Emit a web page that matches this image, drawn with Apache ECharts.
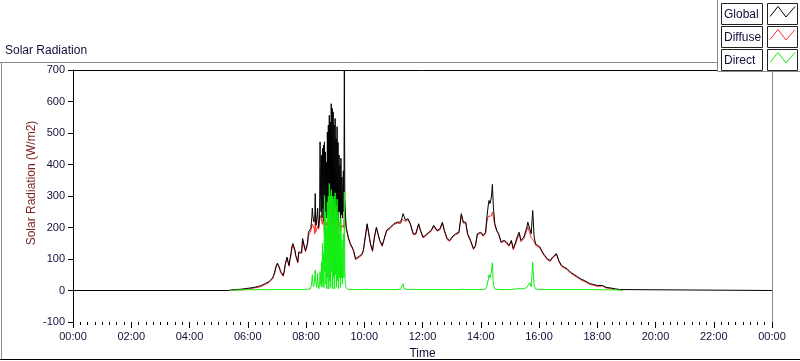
<!DOCTYPE html>
<html>
<head>
<meta charset="utf-8">
<script src="https://cdn.jsdelivr.net/npm/echarts@6/dist/echarts.min.js"></script>
<style>
html,body{margin:0;padding:0;background:#fff;}
#chart{width:800px;height:361px;}
</style>
</head>
<body>
<div id="chart"></div>
<script>
// time in minutes after midnight
const times = [
0,320,324,334,345,355,365,373,382,388,392,396,400,404,408,411,413,415,417,419,421,423,425,427,429,431,433,435,437,439,441,443,445,447,449,451,453,455,457,459,461,463,465,467,469,471,473,475,477,479,481,483,485,487,489,
490,491,492,493,494,495,496,497,498,499,500,501,502,503,504,505,506,507,508,509,510,511,512,513,514,515,516,517,518,519,520,521,522,523,524,525,526,527,528,529,530,531,532,533,534,535,536,537,538,539,540,541,542,543,544,545,546,547,548,549,550,551,552,553,554,555,556,557,558,559,560,561,562,563,
565,567,571,575,578,582,584,586,589,592,595,598,602,606,609,613,617,621,625,628,632,637,640,646,650,654,661,668,675,678,680,682,685,690,695,701,706,709,712,716,721,726,733,738,743,747,750,756,761,765,771,776,781,788,795,800,804,809,813,819,825,829,833,840,845,850,852,855,857,859,862,864,866,869,873,877,882,888,893,898,903,907,912,915,919,923,929,935,937,941,944,947,950,953,957,962,967,972,977,983,988,992,996,1001,1006,1012,1018,1025,1032,1039,1046,1053,1060,1067,1073,1080,1091,1098,1108,1118,1128,1132,1440
];
const globalVals = [
0,0,1,3,4,6,8,10,13,16,19,22,25,28,33,40,47,56,68,80,87,82,74,64,57,51,48,60,82,95,106,92,80,100,117,140,149,150,130,111,101,90,122,127,118,122,165,170,138,127,122,150,185,181,191,
197,215,230,261,240,229,218,217,225,308,215,207,201,210,261,225,200,215,240,472,313,250,429,230,451,260,461,220,472,300,440,240,408,230,503,250,525,210,556,240,535,220,593,260,578,210,567,240,525,200,546,260,482,220,520,240,470,200,430,250,398,220,420,240,360,230,330,380,250,700,292,249,244,200,
185,170,150,138,127,101,95,100,108,111,115,127,170,212,207,148,127,170,201,196,159,143,159,191,185,201,212,217,217,232,244,235,223,228,212,180,180,196,212,191,170,175,185,191,207,212,191,196,217,191,164,159,170,180,185,244,217,217,180,159,133,143,180,185,175,185,223,265,286,276,297,337,265,212,191,180,154,159,154,143,159,133,154,170,185,159,170,201,217,223,180,254,170,148,143,138,122,111,101,95,106,111,117,95,80,74,69,58,51,44,37,32,26,21,19,16,16,10,8,5,3,0,0
];
const diffuseVals = [
null,null,1,2,2,4,5,8,10,13,17,19,22,26,30,37,44,53,65,77,84,79,71,61,54,48,45,57,79,90,100,89,77,96,112,133,142,144,126,108,98,87,118,123,114,118,158,160,134,123,118,144,174,172,180,
189,198,200,210,214,216,207,196,180,240,185,186,190,184,205,204,194,206,222,230,238,232,220,218,210,228,215,208,175,236,190,218,205,203,220,208,195,183,190,200,215,188,250,198,240,173,265,198,215,163,225,208,212,188,220,198,220,152,210,205,218,188,190,198,200,208,210,200,208,292,230,226,232,193,
181,167,147,135,124,98,92,97,105,108,112,124,166,208,204,145,124,167,198,193,156,140,156,188,182,198,209,214,212,226,223,229,219,225,209,177,177,193,209,188,167,172,182,188,204,209,188,193,214,188,161,156,167,177,182,240,214,214,177,156,130,140,177,182,172,180,211,235,236,236,237,249,245,207,188,177,151,156,151,140,156,130,149,162,179,155,165,191,202,198,168,164,155,143,140,135,119,108,98,92,103,108,114,92,77,71,66,55,48,41,34,29,23,18,16,13,14,8,6,3,2,0,null
];
const directVals = [
null,null,0,1,2,2,3,2,3,3,2,3,3,2,3,3,3,3,3,3,3,3,3,3,3,3,3,3,3,3,3,3,3,3,3,3,3,3,3,3,3,3,3,3,3,3,3,3,3,3,3,4,4,4,5,
8,15,30,50,25,12,10,20,45,65,30,20,10,25,55,20,5,8,15,60,30,15,90,10,150,25,120,10,302,60,250,20,200,5,280,40,300,5,340,30,300,10,320,60,300,5,290,40,300,5,310,50,270,10,290,30,250,5,220,40,180,10,230,40,160,20,120,180,40,313,60,20,10,5,
4,3,3,3,3,3,3,3,3,3,3,3,4,4,3,3,3,3,3,3,3,3,3,3,3,3,3,3,5,6,21,6,4,3,3,3,3,3,3,3,3,3,3,3,3,3,3,3,3,3,3,3,3,3,3,4,3,3,3,3,3,3,3,3,3,5,12,30,50,40,60,88,20,5,3,3,3,3,3,3,3,3,5,8,6,4,5,10,15,25,12,90,15,5,3,3,3,3,3,3,3,3,3,3,3,3,3,3,3,3,3,3,3,3,3,3,2,2,2,2,1,0,null
];
const yTicks = {min: -100, max: 700, step: 100};
const xTicks = {min: 0, max: 1440, step: 120};
const seriesNames = ['Global', 'Diffuse', 'Direct'];

function pairs(vals){ return times.map((t,i)=>[t, vals[i]===null ? '-' : vals[i]]); }
function hhmm(v){ const h = Math.floor(v/60)%24, m = Math.round(v%60); return (h<10?'0':'')+h+':'+(m<10?'0':'')+m; }

const FONT = 'Liberation Sans, Arial, sans-serif';
const chart = echarts.init(document.getElementById('chart'), null, {renderer:'canvas'});

function legendRow(y, name, color){
  return [
    {type:'rect', shape:{x:721.5, y:y+0.5, width:41, height:21}, style:{fill:'#fff', stroke:'#222', lineWidth:1}},
    {type:'text', style:{x:724, y:y+11.5, text:name, fill:'#10103a', font:'12px '+FONT, textVerticalAlign:'middle'}},
    {type:'rect', shape:{x:767.5, y:y+0.5, width:30, height:21}, style:{fill:'#fff', stroke:'#222', lineWidth:1}},
    {type:'polyline', shape:{points:[[770,y+13.5],[778,y+3.5],[786,y+14],[795,y+3.5]]}, style:{stroke:color, lineWidth:1, fill:null}}
  ];
}

const graphics = [
  {type:'line', shape:{x1:0, y1:62.5, x2:717, y2:62.5}, style:{stroke:'#8a8a8a', lineWidth:1}},
  {type:'line', shape:{x1:1.5, y1:62, x2:1.5, y2:359}, style:{stroke:'#8a8a8a', lineWidth:1}},
  {type:'line', shape:{x1:772.5, y1:62, x2:772.5, y2:322}, style:{stroke:'#8a8a8a', lineWidth:1}},
  {type:'line', shape:{x1:73, y1:70.5, x2:772, y2:70.5}, style:{stroke:'#000', lineWidth:1}},
  {type:'line', shape:{x1:0, y1:359.5, x2:800, y2:359.5}, style:{stroke:'#000', lineWidth:1}},
  {type:'text', style:{x:5, y:51, text:'Solar Radiation', fill:'#10103a', font:'12px '+FONT, textVerticalAlign:'middle'}},
  {type:'text', x:32, y:183, rotation:Math.PI/2, style:{x:0, y:0, text:'Solar Radiation (W/m2)', fill:'#7a1e1e', font:'12px '+FONT, textAlign:'center', textVerticalAlign:'middle'}},
  {type:'rect', shape:{x:717.5, y:-1, width:84, height:72.5}, style:{fill:'#fff', stroke:'#8a8a8a', lineWidth:1}, z:100},
];
const legendEls = [].concat(
  legendRow(3, seriesNames[0], '#000'),
  legendRow(26, seriesNames[1], '#ff3030'),
  legendRow(49, seriesNames[2], '#11ee11')
).map(e=>Object.assign(e,{z:101}));

chart.setOption({
  animation:false,
  backgroundColor:'#fff',
  grid:{left:73, right:28, top:70, bottom:39, containLabel:false, outerBoundsMode:'none'},
  xAxis:{
    type:'value', min:xTicks.min, max:xTicks.max, interval:xTicks.step,
    name:'Time', nameLocation:'middle', nameGap:26,
    nameTextStyle:{color:'#10103a', fontSize:12, fontFamily:FONT},
    axisLine:{show:false, onZero:false},
    axisTick:{show:true, length:6, lineStyle:{color:'#000'}},
    minorTick:{show:true, splitNumber:8, length:3, lineStyle:{color:'#000'}},
    axisLabel:{formatter:hhmm, color:'#10103a', fontSize:11, fontFamily:FONT, margin:9},
    splitLine:{show:false}, minorSplitLine:{show:false}
  },
  yAxis:{
    type:'value', min:yTicks.min, max:yTicks.max, interval:yTicks.step,
    axisLine:{show:true, lineStyle:{color:'#000'}},
    axisTick:{show:true, length:5, lineStyle:{color:'#000'}},
    axisLabel:{color:'#10103a', fontSize:11, fontFamily:FONT, margin:8},
    splitLine:{show:false}
  },
  series:[
    {name:seriesNames[1], type:'line', data:pairs(diffuseVals), showSymbol:false, lineStyle:{color:'#ff3030', width:1}, z:2},
    {name:seriesNames[0], type:'line', data:pairs(globalVals), showSymbol:false, lineStyle:{color:'#000', width:1}, z:3},
    {name:seriesNames[2], type:'line', data:pairs(directVals), showSymbol:false, lineStyle:{color:'#11ee11', width:1}, z:4}
  ],
  graphic: graphics.concat(legendEls)
});
</script>
</body>
</html>
